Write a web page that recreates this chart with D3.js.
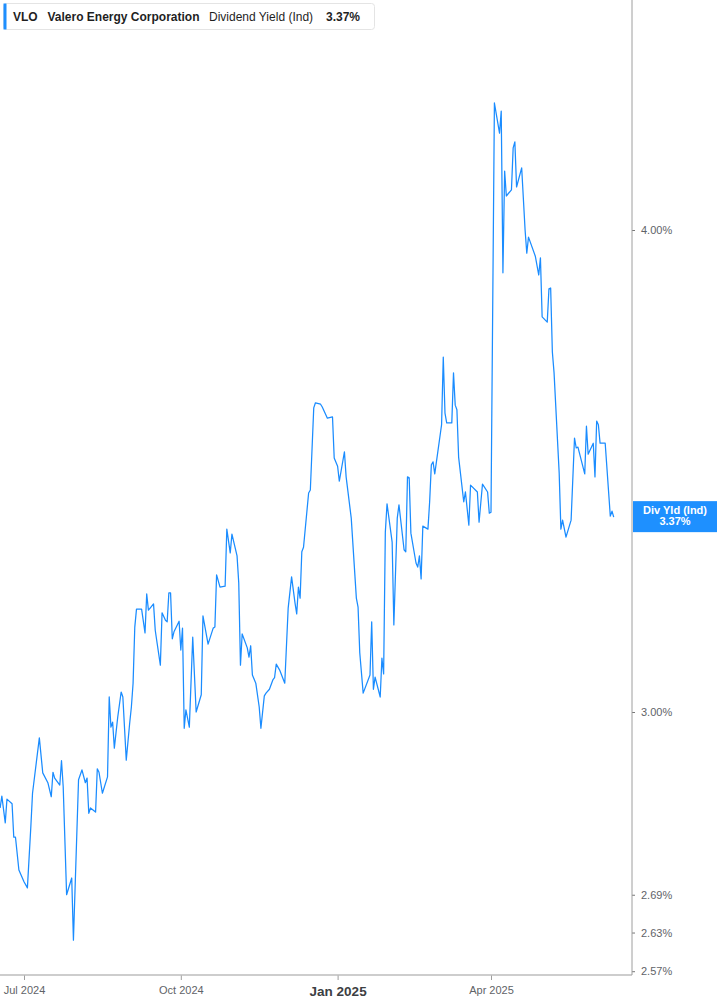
<!DOCTYPE html>
<html>
<head>
<meta charset="utf-8">
<script src="https://cdn.jsdelivr.net/npm/d3@7"></script>
<style>
  html, body { margin: 0; padding: 0; background: #fff; }
  svg { display: block; font-family: "Liberation Sans", Arial, sans-serif; }
</style>
</head>
<body>
<svg id="chart" width="717" height="1005"></svg>
<script>
const dates = [
"2024-06-17","2024-06-18","2024-06-20","2024-06-21","2024-06-24","2024-06-25","2024-06-26","2024-06-28",
"2024-07-01","2024-07-03","2024-07-05","2024-07-06","2024-07-10","2024-07-12","2024-07-15","2024-07-17",
"2024-07-18","2024-07-19","2024-07-22","2024-07-23","2024-07-24","2024-07-26","2024-07-29","2024-07-30",
"2024-08-02","2024-08-04","2024-08-06","2024-08-07","2024-08-08","2024-08-09","2024-08-12","2024-08-13",
"2024-08-14","2024-08-16","2024-08-19","2024-08-20","2024-08-21","2024-08-22","2024-08-23","2024-08-25",
"2024-08-27","2024-08-28","2024-08-30","2024-09-01","2024-09-02","2024-09-03","2024-09-04","2024-09-05",
"2024-09-08","2024-09-10","2024-09-11","2024-09-12","2024-09-13","2024-09-15","2024-09-16","2024-09-17",
"2024-09-19","2024-09-20","2024-09-22","2024-09-23","2024-09-24","2024-09-25","2024-09-26","2024-09-27",
"2024-09-30","2024-10-01","2024-10-02","2024-10-03","2024-10-04","2024-10-06","2024-10-08","2024-10-10",
"2024-10-13","2024-10-14","2024-10-17","2024-10-20","2024-10-21","2024-10-22","2024-10-24","2024-10-27",
"2024-10-28","2024-10-30","2024-10-31","2024-11-03","2024-11-04","2024-11-05","2024-11-06","2024-11-09",
"2024-11-10","2024-11-11","2024-11-12","2024-11-14","2024-11-16","2024-11-17","2024-11-19","2024-11-20",
"2024-11-22","2024-11-24","2024-11-25","2024-11-26","2024-11-28","2024-12-01","2024-12-03","2024-12-05",
"2024-12-07","2024-12-08","2024-12-09","2024-12-10","2024-12-11","2024-12-12","2024-12-15","2024-12-16",
"2024-12-18","2024-12-19","2024-12-22","2024-12-23","2024-12-26","2024-12-29","2024-12-30","2025-01-01",
"2025-01-02","2025-01-05","2025-01-06","2025-01-09","2025-01-12","2025-01-13","2025-01-14","2025-01-16",
"2025-01-20","2025-01-21","2025-01-22","2025-01-23","2025-01-26","2025-01-27","2025-01-28","2025-01-29",
"2025-01-30","2025-02-02","2025-02-03","2025-02-05","2025-02-06","2025-02-09","2025-02-10","2025-02-11",
"2025-02-12","2025-02-13","2025-02-16","2025-02-17","2025-02-18","2025-02-19","2025-02-20","2025-02-23",
"2025-02-24","2025-02-25","2025-02-26","2025-02-27","2025-03-03","2025-03-04","2025-03-05","2025-03-06",
"2025-03-09","2025-03-10","2025-03-11","2025-03-12","2025-03-13","2025-03-16","2025-03-17","2025-03-19",
"2025-03-20","2025-03-24","2025-03-25","2025-03-27","2025-03-30","2025-03-31","2025-04-01","2025-04-03",
"2025-04-06","2025-04-07","2025-04-08","2025-04-09","2025-04-10","2025-04-13","2025-04-14","2025-04-15",
"2025-04-16","2025-04-19","2025-04-21","2025-04-22","2025-04-23","2025-04-27","2025-04-29","2025-04-30",
"2025-05-01","2025-05-04","2025-05-05","2025-05-06","2025-05-07","2025-05-08","2025-05-11","2025-05-12",
"2025-05-13","2025-05-15","2025-05-18","2025-05-20","2025-05-21","2025-05-22","2025-05-26","2025-05-27",
"2025-05-28","2025-05-31","2025-06-01","2025-06-02","2025-06-03","2025-06-04","2025-06-07","2025-06-10",
"2025-06-11","2025-06-12"
];
const yields = [
2.833,2.853,2.808,2.848,2.840,2.784,2.784,2.730,
2.711,2.701,2.801,2.858,2.954,2.893,2.876,2.852,
2.894,2.884,2.872,2.914,2.869,2.690,2.717,2.618,
2.881,2.898,2.876,2.884,2.824,2.833,2.826,2.900,
2.894,2.858,2.886,3.027,2.973,2.982,2.936,2.991,
3.036,3.027,2.915,2.980,3.009,3.052,3.156,3.190,
3.190,3.145,3.219,3.188,3.192,3.200,3.150,3.128,
3.085,3.183,3.169,3.166,3.221,3.221,3.134,3.147,
3.167,3.113,3.154,2.971,3.004,2.973,3.137,3.000,
3.031,3.177,3.124,3.154,3.156,3.256,3.232,3.234,
3.346,3.299,3.336,3.293,3.240,3.085,3.143,3.117,
3.100,3.121,3.067,3.052,3.009,2.971,3.029,3.034,
3.041,3.058,3.062,3.087,3.076,3.052,3.192,3.252,
3.202,3.181,3.232,3.211,3.301,3.310,3.419,3.425,
3.597,3.608,3.605,3.599,3.575,3.578,3.491,3.474,
3.443,3.504,3.452,3.368,3.211,3.194,3.108,3.034,
3.067,3.166,3.041,3.063,3.027,3.098,3.069,3.340,
3.397,3.320,3.160,3.368,3.395,3.305,3.301,3.452,
3.450,3.338,3.279,3.271,3.293,3.248,3.352,3.346,
3.401,3.477,3.483,3.458,3.561,3.708,3.586,3.565,
3.565,3.673,3.603,3.593,3.493,3.401,3.421,3.354,
3.435,3.421,3.360,3.437,3.421,3.378,3.380,4.315,
4.238,4.294,3.899,4.143,4.082,4.097,4.201,4.216,
4.104,4.151,4.000,3.945,3.983,3.938,3.894,3.934,
3.798,3.786,3.862,3.864,3.719,3.673,3.460,3.346,
3.364,3.330,3.364,3.533,3.512,3.514,3.458,3.558,
3.499,3.522,3.452,3.569,3.561,3.522,3.522,3.372,
3.382,3.370
];
const yTickValues = [2.57, 2.63, 2.69, 3.00, 4.00];
const xTickDates = ["2024-07-01", "2024-10-01", "2025-01-01", "2025-04-01"];
const xTickLabels = ["Jul 2024", "Oct 2024", "Jan 2025", "Apr 2025"];
const currentLabel = "Div Yld (Ind)";
const currentValue = 3.37;

const parse = d3.utcParse("%Y-%m-%d");
const data = dates.map((d, i) => ({ date: parse(d), value: yields[i] }));

const svg = d3.select("#chart");
const plotRight = 632, plotBottom = 975;

const x = d3.scaleUtc()
  .domain([parse("2024-07-01"), parse("2025-04-01")])
  .range([24, 491]);
const y = d3.scaleLog()
  .domain([3, 4])
  .range([712, 230]);

// clip
svg.append("defs").append("clipPath").attr("id", "clip")
  .append("rect").attr("x", 0).attr("y", 0).attr("width", plotRight).attr("height", plotBottom);

// line
const line = d3.line().x(d => x(d.date)).y(d => y(d.value));
svg.append("path")
  .datum(data)
  .attr("clip-path", "url(#clip)")
  .attr("fill", "none")
  .attr("stroke", "#1a8cff")
  .attr("stroke-width", 1.25)
  .attr("stroke-linejoin", "round")
  .attr("d", line);

// bottom axis
const xAxis = d3.axisBottom(x)
  .tickValues(xTickDates.map(parse))
  .tickSize(5)
  .tickPadding(6)
  .tickFormat((d, i) => xTickLabels[i]);
const gx = svg.append("g").attr("transform", `translate(0,${plotBottom})`).call(xAxis);
gx.select(".domain").remove();
gx.append("line").attr("x1", 0).attr("x2", plotRight).attr("y1", 0).attr("y2", 0)
  .attr("stroke", "#bdbdbd").attr("stroke-width", 1.5);
gx.selectAll(".tick line").attr("stroke", "#9e9e9e");
gx.selectAll(".tick text")
  .attr("fill", "#5f6368")
  .style("font-size", "11px")
  .style("font-family", "'Liberation Sans', Arial, sans-serif");
gx.selectAll(".tick text").filter((d, i) => i === 2)
  .attr("fill", "#3c4043")
  .style("font-size", "13.5px")
  .style("font-weight", "bold")
  .attr("y", 21.3)
  .attr("dy", 0);

// right axis
const yAxis = d3.axisRight(y)
  .tickValues(yTickValues)
  .tickSize(3)
  .tickPadding(6)
  .tickFormat(d => d.toFixed(2) + "%");
const gy = svg.append("g").attr("transform", `translate(${plotRight},0)`).call(yAxis);
gy.select(".domain").remove();
gy.append("line").attr("x1", 0).attr("x2", 0).attr("y1", 0).attr("y2", plotBottom)
  .attr("stroke", "#9e9e9e").attr("stroke-width", 1);
gy.selectAll(".tick line").attr("stroke", "#777");
gy.selectAll(".tick text")
  .attr("fill", "#5f6368")
  .style("font-size", "11px")
  .style("font-family", "'Liberation Sans', Arial, sans-serif");

// current value label
const ly = y(currentValue);
const lab = svg.append("g");
lab.append("rect")
  .attr("x", plotRight + 1).attr("y", ly - 16)
  .attr("width", 717 - plotRight - 1).attr("height", 31)
  .attr("fill", "#1e90ff");
lab.append("text")
  .attr("x", 675).attr("y", ly - 3.5)
  .attr("text-anchor", "middle")
  .attr("fill", "#fff").style("font-weight", "bold").style("font-size", "11px")
  .text(currentLabel);
lab.append("text")
  .attr("x", 675).attr("y", ly + 7.5)
  .attr("text-anchor", "middle")
  .attr("fill", "#fff").style("font-weight", "bold").style("font-size", "11px")
  .text(currentValue.toFixed(2) + "%");

// header box
const hdr = svg.append("g");
hdr.append("rect")
  .attr("x", 3.5).attr("y", 3.5).attr("width", 371).attr("height", 26)
  .attr("rx", 3).attr("fill", "#fff").attr("stroke", "#e4e4e4");
hdr.append("rect")
  .attr("x", 3.5).attr("y", 3.5).attr("width", 3).attr("height", 26)
  .attr("fill", "#1e8fff");
const hdrTexts = [
  { t: "VLO", x: 13, w: "bold" },
  { t: "Valero Energy Corporation", x: 47.5, w: "bold" },
  { t: "Dividend Yield (Ind)", x: 209, w: "normal" },
  { t: currentValue.toFixed(2) + "%", x: 326, w: "bold" }
];
hdr.selectAll("text.h").data(hdrTexts).join("text")
  .attr("class", "h")
  .attr("x", d => d.x).attr("y", 21)
  .attr("fill", "#1f1f1f")
  .style("font-size", "12px")
  .style("font-weight", d => d.w)
  .text(d => d.t);
</script>
</body>
</html>
